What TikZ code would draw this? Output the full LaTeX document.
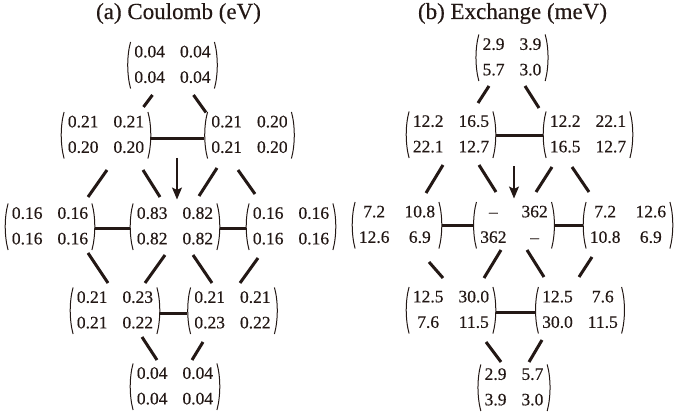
\documentclass[tikz,border=0pt]{standalone}
\usepackage{fontspec}
\setmainfont{Liberation Serif}[FakeBold=0.35]
\usetikzlibrary{arrows.meta}
\definecolor{ink}{RGB}{35,24,21}
\tikzset{
  mnode/.style={inner xsep=7pt, inner ysep=0pt, outer sep=0pt, text=ink,
    font=\fontsize{17.5}{25.5}\selectfont},
  paren/.style={draw=ink, line width=1pt},
  link/.style={draw=ink, line width=3pt},
  arr/.style={draw=ink, line width=1.3pt, -{Stealth[length=12pt,width=10pt,inset=2.5pt]}},
  title/.style={text=ink, font=\fontsize{23}{27}\selectfont, inner sep=0pt}
}
\newcommand\mtx[6]{%
  \node[mnode] (#1) at (#2) {\begin{tabular}{@{}c@{\hspace{15pt}}c@{}}#3&#4\\#5&#6\end{tabular}};
  \draw[paren] ([xshift=3.2pt,yshift=-2.5pt]#1.north west) .. controls ([xshift=-0.6pt,yshift=-16pt]#1.north west) and ([xshift=-0.6pt,yshift=16pt]#1.south west) .. ([xshift=3.2pt,yshift=2pt]#1.south west);
  \draw[paren] ([xshift=-3.2pt,yshift=-2.5pt]#1.north east) .. controls ([xshift=0.6pt,yshift=-16pt]#1.north east) and ([xshift=0.6pt,yshift=16pt]#1.south east) .. ([xshift=-3.2pt,yshift=2pt]#1.south east);
}
\begin{document}
\begin{tikzpicture}[x=1pt,y=-1pt]
\useasboundingbox[fill=white] (0,0) rectangle (674,419);
% titles
\node[title] (ta) at (178.5,13.5) {(a) Coulomb (eV)};
\node[title] (tb) at (512.5,13.5) {(b) Exchange (meV)};
% ---- left panel
\mtx{L1}{172.5,65}{0.04}{0.04}{0.04}{0.04}
\mtx{L2a}{106,135}{0.21}{0.21}{0.20}{0.20}
\mtx{L2b}{249.5,135}{0.21}{0.20}{0.21}{0.20}
\mtx{L3a}{50,226.5}{0.16}{0.16}{0.16}{0.16}
\mtx{L3b}{175,226.5}{0.83}{0.82}{0.82}{0.82}
\mtx{L3c}{291,226.5}{0.16}{0.16}{0.16}{0.16}
\mtx{L4a}{115,310.5}{0.21}{0.23}{0.21}{0.22}
\mtx{L4b}{232.5,310.5}{0.21}{0.21}{0.23}{0.22}
\mtx{L5}{175,386.5}{0.04}{0.04}{0.04}{0.04}
\draw[link] ([yshift=-3.5pt]L2a.east) -- ([yshift=-3.5pt]L2b.west);
\draw[link] ([yshift=-2pt]L3a.east) -- ([yshift=-2pt]L3b.west);
\draw[link] ([yshift=-2pt]L3b.east) -- ([yshift=-2pt]L3c.west);
\draw[link] ([yshift=-3pt]L4a.east) -- ([yshift=-3pt]L4b.west);
\draw[link] (152.5,95) -- (143.5,107);
\draw[link] (193.5,95) -- (206,112.5);
\draw[link] (107,170) -- (88,197);
\draw[link] (143,170) -- (160,197);
\draw[link] (217,168) -- (199,196);
\draw[link] (238,170) -- (255,194);
\draw[link] (88,253) -- (108,283);
\draw[link] (165,255) -- (145,283);
\draw[link] (193,255) -- (212,283);
\draw[link] (258,258) -- (240,283);
\draw[link] (142,337) -- (157,360);
\draw[link] (203,342) -- (192,360);
\draw[arr] ([xshift=2pt,yshift=43pt]L3b.north) -- ([xshift=2pt,yshift=1.5pt]L3b.north);
% ---- right panel
\mtx{R1}{512,57.5}{2.9}{3.9}{5.7}{3.0}
\mtx{R2a}{451,134.5}{12.2}{16.5}{22.1}{12.7}
\mtx{R2b}{588,134.5}{12.2}{22.1}{16.5}{12.7}
\mtx{R3a}{397,225}{7.2}{10.8}{12.6}{6.9}
\mtx{R3b}{514,225}{–}{362}{362}{–}
\mtx{R3c}{628,225}{7.2}{12.6}{10.8}{6.9}
\mtx{R4a}{451,310}{12.5}{30.0}{7.6}{11.5}
\mtx{R4b}{580,310}{12.5}{7.6}{30.0}{11.5}
\mtx{R5}{514,387.5}{2.9}{5.7}{3.9}{3.0}
\draw[link] ([yshift=-1pt]R2a.east) -- ([yshift=-1pt]R2b.west);
\draw[link] ([yshift=-0.5pt]R3a.east) -- ([yshift=-0.5pt]R3b.west);
\draw[link] ([yshift=-0.5pt]R3b.east) -- ([yshift=-0.5pt]R3c.west);
\draw[link] ([yshift=-2.5pt]R4a.east) -- ([yshift=-2.5pt]R4b.west);
\draw[link] (489,86) -- (478,103);
\draw[link] (525,86) -- (539,108);
\draw[link] (443,165) -- (426,193);
\draw[link] (479,165) -- (496,192);
\draw[link] (552,167) -- (536,192);
\draw[link] (572,167) -- (589,192);
\draw[link] (429,262) -- (443,278);
\draw[link] (501,250) -- (484,278);
\draw[link] (527,250) -- (544,277);
\draw[link] (592,257) -- (579,277);
\draw[link] (486,342) -- (501,362);
\draw[link] (542,340) -- (529,362);
\draw[arr] ([yshift=33pt]R3b.north) -- ([yshift=1pt]R3b.north);
\end{tikzpicture}
\end{document}
